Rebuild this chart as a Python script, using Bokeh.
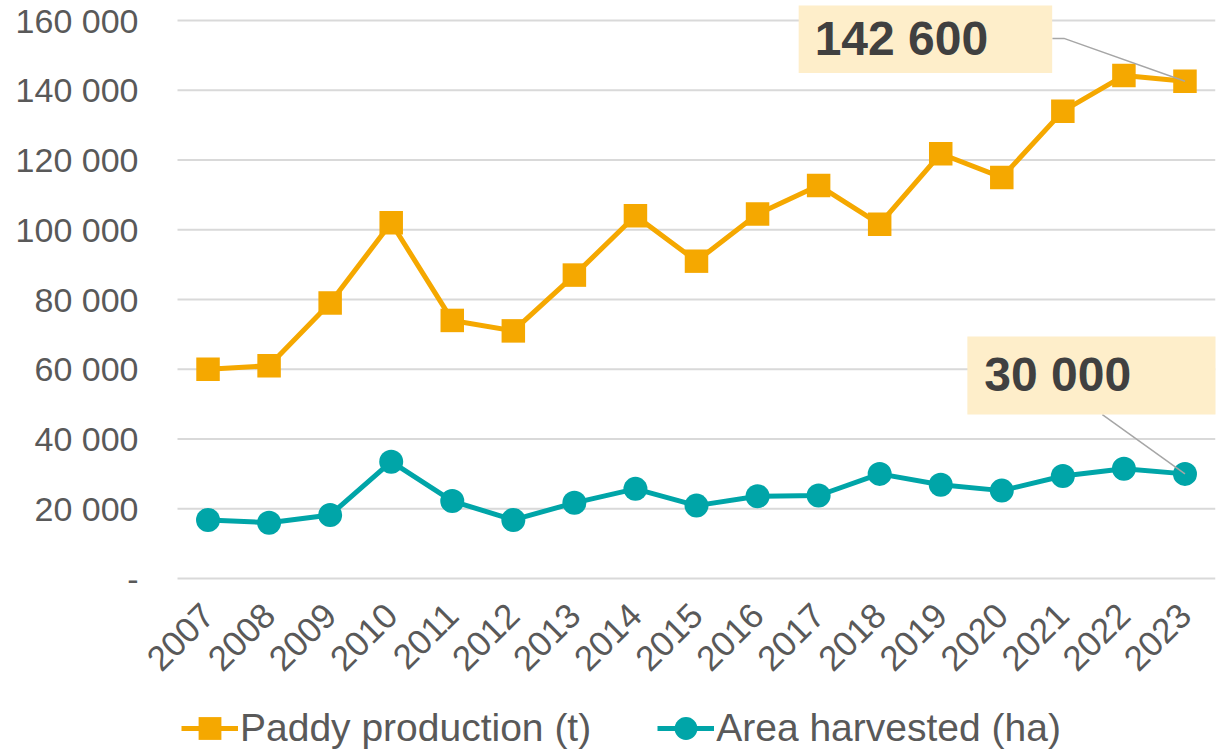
from math import pi
from bokeh.plotting import figure
from bokeh.models import Range1d, FixedTicker, Legend, LegendItem, Label
from bokeh.embed import file_html
from bokeh.resources import INLINE

# ---------------- data ----------------
years = list(range(2007, 2024))
paddy_production = [60000, 61000, 79000, 102000, 74000, 71000, 87000, 104000,
                    91000, 104500, 112700, 101600, 121800, 115000, 134000, 144200, 142600]
area_harvested = [16800, 16000, 18200, 33500, 22200, 16800, 21700, 25700,
                  20900, 23600, 23800, 30000, 26900, 25200, 29400, 31500, 30000]
y_ticks = [0, 20000, 40000, 60000, 80000, 100000, 120000, 140000, 160000]
y_tick_labels = ["-", "20 000", "40 000", "60 000", "80 000", "100 000",
                 "120 000", "140 000", "160 000"]
series_names = ["Paddy production (t)", "Area harvested (ha)"]
callout_texts = ["142 600", "30 000"]

# ---------------- style ----------------
FONT = "Liberation Sans"
ORANGE = "#F5A800"
TEAL = "#00A5A8"
TEXT = "#595959"
GRID = "#D9D9D9"
BOX = "#FEEECA"
LEADER = "#A6A6A6"

W, H = 1222, 752
FRAME_L, FRAME_R = 144, 1215       # frame (wide enough for the rotated 2007 label)
GRID_L = 177                       # where the plotting area / grid starts
FRAME_T, ZERO_Y, TOP_TICK_Y = 5, 578, 20
PX_PER_Y = (ZERO_Y - TOP_TICK_Y) / (y_ticks[-1] - y_ticks[0])
PX_PER_X = (FRAME_R - GRID_L) / len(years)
X_START, X_END = years[0] - 0.5, years[-1] + 0.5
X0 = X_START - (GRID_L - FRAME_L) / PX_PER_X
X1 = X_END
Y1 = y_ticks[-1] + (TOP_TICK_Y - FRAME_T) / PX_PER_Y
Y0 = y_ticks[0] - (H - ZERO_Y) / PX_PER_Y


def dx(px):
    return px / PX_PER_X


def dy(px):
    return px / PX_PER_Y


p = figure(width=W, height=H, output_backend="svg", toolbar_location=None,
           x_range=Range1d(X0, X1), y_range=Range1d(Y0, Y1),
           min_border_left=FRAME_L, min_border_right=W - FRAME_R,
           min_border_top=FRAME_T, min_border_bottom=0)
p.outline_line_color = None
p.background_fill_color = "white"
p.border_fill_color = "white"

# horizontal grid lines across the plotting area, one per y tick
p.xgrid.visible = False
p.ygrid.visible = False
p.segment(x0=[X_START] * len(y_ticks), x1=[X_END] * len(y_ticks),
          y0=y_ticks, y1=y_ticks, line_color=GRID, line_width=2)

# y axis
p.yaxis.ticker = FixedTicker(ticks=y_ticks)
p.yaxis.major_label_overrides = {t: s for t, s in zip(y_ticks, y_tick_labels)}
p.yaxis.axis_line_color = None
p.yaxis.major_tick_line_color = None
p.yaxis.minor_tick_line_color = None
p.yaxis.major_label_standoff = 0
p.yaxis.major_label_text_font = FONT
p.yaxis.major_label_text_font_size = "34px"
p.yaxis.major_label_text_color = TEXT

# x axis, pinned at y = 0
p.xaxis.fixed_location = 0
p.xaxis.ticker = FixedTicker(ticks=years)
p.xaxis.major_label_overrides = {y: str(y) for y in years}
p.xaxis.axis_line_color = None
p.xaxis.major_tick_line_color = None
p.xaxis.minor_tick_line_color = None
p.xaxis.major_label_orientation = pi / 4
p.xaxis.major_label_standoff = 25
p.xaxis.major_label_text_font = FONT
p.xaxis.major_label_text_font_size = "35px"
p.xaxis.major_label_text_color = TEXT

# series
l1 = p.line(years, paddy_production, line_color=ORANGE, line_width=5)
s1 = p.scatter(years, paddy_production, marker="square", size=23.5,
               fill_color=ORANGE, line_color=ORANGE, line_width=0)
l2 = p.line(years, area_harvested, line_color=TEAL, line_width=5)
s2 = p.scatter(years, area_harvested, marker="circle", size=24,
               fill_color=TEAL, line_color=TEAL, line_width=0)

# leader lines for call-outs (anchored on the last data points)
xl = years[-1]
yl1 = paddy_production[-1]
yl2 = area_harvested[-1]
p.line([xl + dx(-132.6), xl + dx(-121), xl],
       [yl1 + dy(42.8), yl1 + dy(42.8), yl1],
       line_color=LEADER, line_width=1.5)
p.line([xl + dx(-82.6), xl], [yl2 + dy(59.3), yl2],
       line_color=LEADER, line_width=1.5)

# call-out labels
lab1 = Label(x=xl, y=yl1, x_offset=-386.3, y_offset=42.2, text=callout_texts[0],
             text_font=FONT, text_font_size="48px", text_font_style="bold",
             text_color="#404040", text_align="left", text_baseline="alphabetic",
             background_fill_color=BOX,
             padding=dict(left=16, right=64, top=7, bottom=8))
lab2 = Label(x=xl, y=yl2, x_offset=-217.6, y_offset=98.4, text=callout_texts[1],
             text_font=FONT, text_font_size="48px", text_font_style="bold",
             text_color="#404040", text_align="left", text_baseline="alphabetic",
             background_fill_color=BOX,
             padding=dict(left=17, right=95, top=12, bottom=13))
p.add_layout(lab1)
p.add_layout(lab2)

# legend (inside the frame, under the pinned x axis)
legend = Legend(items=[LegendItem(label=series_names[0], renderers=[l1, s1]),
                       LegendItem(label=series_names[1], renderers=[l2, s2])],
                location=(181 - FRAME_L, H - 757), orientation="horizontal",
                glyph_width=57, glyph_height=58, label_standoff=2, spacing=66,
                padding=0, margin=0, border_line_color=None,
                background_fill_alpha=0,
                label_text_font=FONT, label_text_font_size="39px",
                label_text_color=TEXT)
p.add_layout(legend)

open("out.html", "w").write(file_html(p, INLINE))
